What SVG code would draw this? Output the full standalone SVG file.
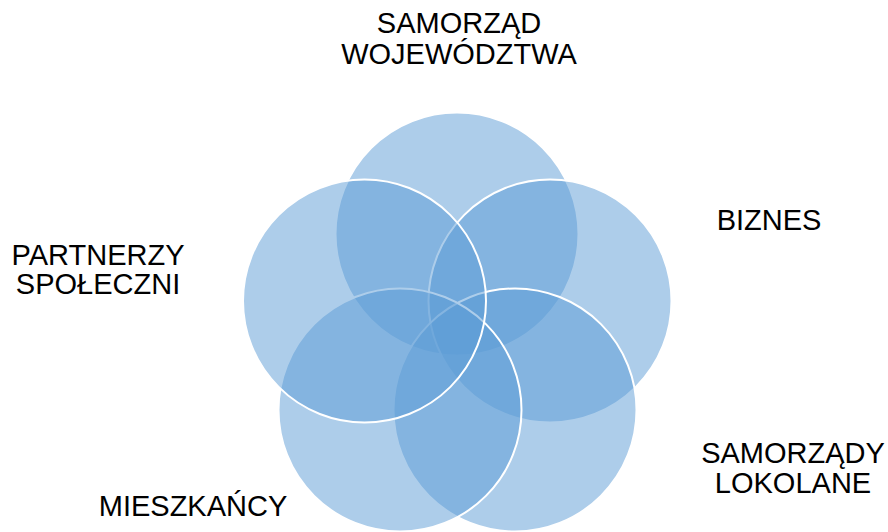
<svg xmlns="http://www.w3.org/2000/svg" width="888" height="532" viewBox="0 0 888 532">
  <style>
    .c { fill: #5B9BD5; fill-opacity: 0.5; stroke: #FFFFFF; stroke-width: 2; }
    .t { font-family: "Liberation Sans", Arial, sans-serif; font-size: 29px; fill: #000000; text-anchor: middle; }
  </style>
  <rect width="888" height="532" fill="#FFFFFF"/>
  <g id="circles">
    <g id="node-samorzad-wojewodztwa-circle"><circle class="c" cx="457" cy="234" r="121.5"/></g>
    <g id="node-biznes-circle"><circle class="c" cx="550" cy="301" r="121.5"/></g>
    <g id="node-samorzady-lokolane-circle"><circle class="c" cx="515" cy="410" r="121.5"/></g>
    <g id="node-mieszkancy-circle"><circle class="c" cx="400" cy="410" r="121.5"/></g>
    <g id="node-partnerzy-spoleczni-circle"><circle class="c" cx="364.5" cy="301" r="121.5"/></g>
  </g>
  <g id="connectors"></g>
  <g id="labels">
    <g id="node-samorzad-wojewodztwa">
      <text class="t" x="459" y="33">SAMORZĄD</text>
      <text class="t" x="459" y="64">WOJEWÓDZTWA</text>
    </g>
    <g id="node-biznes">
      <text class="t" x="769" y="230">BIZNES</text>
    </g>
    <g id="node-samorzady-lokolane">
      <text class="t" x="793" y="463">SAMORZĄDY</text>
      <text class="t" x="793" y="493">LOKOLANE</text>
    </g>
    <g id="node-mieszkancy">
      <text class="t" x="193" y="516">MIESZKAŃCY</text>
    </g>
    <g id="node-partnerzy-spoleczni">
      <text class="t" x="98" y="265">PARTNERZY</text>
      <text class="t" x="98" y="294">SPOŁECZNI</text>
    </g>
  </g>
</svg>
